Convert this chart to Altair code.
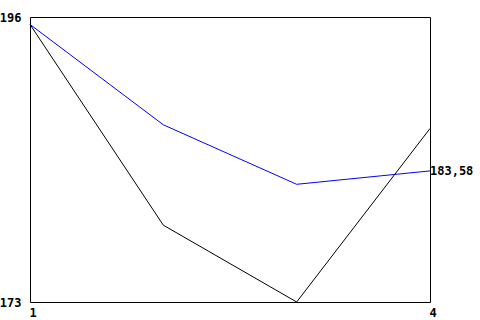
import altair as alt
import pandas as pd

x_vals = [1, 2, 3, 4]
blue_vals = [195.4, 187.3, 182.5, 183.58]
black_vals = [195.4, 179.2, 173.0, 187.0]
y_ticks = [173, 196]
x_ticks = [1, 4]
end_label = ["183,58"]

rows = []
for s, vals in (("blue", blue_vals), ("black", black_vals)):
    for x, v in zip(x_vals, vals):
        rows.append({"x": x, "y": v, "series": s})
df = pd.DataFrame(rows)
lab = pd.DataFrame({"x": [x_vals[-1]], "y": [blue_vals[-1]], "t": end_label})

FONT = "DejaVu Sans Mono"
FS = 12
xs = alt.Scale(domain=[1, 4], nice=False, zero=False)
ys = alt.Scale(domain=[173, 196], nice=False, zero=False)

lines = alt.Chart(df).mark_line(strokeWidth=1).encode(
    x=alt.X("x:Q", scale=xs, axis=alt.Axis(values=x_ticks, format="d", title=None, grid=False, ticks=False,
                                         domain=False, labelFont=FONT, labelFontWeight="bold",
                                         labelFontSize=FS, labelColor="black", labelAlign="left",
                                         labelFlush=False, labelPadding=5, labelOffset=-1)),
    y=alt.Y("y:Q", scale=ys, axis=alt.Axis(values=y_ticks, format="d", title=None, grid=False, ticks=False,
                                         domain=False, labelFont=FONT, labelFontWeight="bold",
                                         labelFontSize=FS, labelColor="black",
                                         labelFlush=False, labelPadding=9)),
    color=alt.Color("series:N", scale=alt.Scale(domain=["blue", "black"], range=["#0000ff", "#000000"]),
                    legend=None),
)

text = alt.Chart(lab).mark_text(align="left", baseline="middle", dx=0, font=FONT,
                                fontWeight="bold", fontSize=FS, color="black").encode(
    x=alt.X("x:Q", scale=xs), y=alt.Y("y:Q", scale=ys), text="t:N")

chart = alt.layer(lines, text).properties(
    width=400, height=285,
    autosize=alt.AutoSizeParams(type="none"),
    padding={"left": 30, "top": 17, "right": 50, "bottom": 18},
    background="white",
).configure_view(stroke="black", strokeWidth=1)

chart.save("out.html", embed_options={"renderer": "svg", "actions": False})
